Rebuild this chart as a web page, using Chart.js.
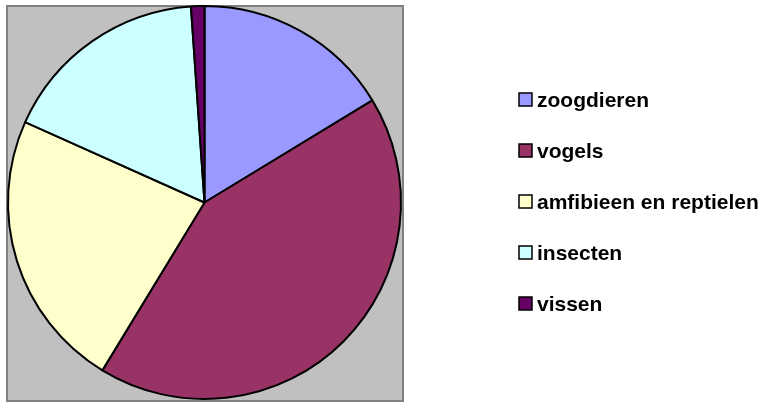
<!DOCTYPE html>
<html>
<head>
<meta charset="utf-8">
<script src="https://cdn.jsdelivr.net/npm/chart.js@4.4.0/dist/chart.umd.min.js"></script>
<style>
    html, body { margin: 0; padding: 0; background: #ffffff; }
    #wrap { width: 767px; height: 403px; }
</style>
</head>
<body>
<div id="wrap"><canvas id="pieChart" width="767" height="403"></canvas></div>
<script>
    'use strict';

    // data (share in %)
    const categories = ['zoogdieren', 'vogels', 'amfibieen en reptielen', 'insecten', 'vissen'];
    const shares = [16.3, 42.4, 23.0, 17.2, 1.1];

    const sliceColors = ['#9999ff', '#993366', '#ffffcc', '#ccffff', '#660066'];

    // grey plot area behind the pie
    const plotBackground = {
        id: 'plotBackground',
        beforeDraw: function (chart) {
            const ctx = chart.ctx;
            ctx.save();
            ctx.fillStyle = '#c0c0c0';
            ctx.fillRect(6, 5, 398, 397);
            ctx.strokeStyle = '#808080';
            ctx.lineWidth = 2;
            ctx.strokeRect(7, 6, 396, 395);
            ctx.restore();
        }
    };

    // legend drawn beside the pie, from the chart's own labels and colours
    const sideLegend = {
        id: 'sideLegend',
        afterDraw: function (chart) {
            const ctx = chart.ctx;
            const ds = chart.data.datasets[0];
            ctx.save();
            ctx.font = 'bold 21px "Liberation Sans", Arial, sans-serif';
            ctx.textBaseline = 'middle';
            chart.data.labels.forEach(function (label, i) {
                const y = 100 + i * 51;
                ctx.fillStyle = ds.backgroundColor[i];
                ctx.fillRect(519, y - 7, 13, 13);
                ctx.strokeStyle = '#000000';
                ctx.lineWidth = 1.5;
                ctx.strokeRect(519, y - 7, 13, 13);
                ctx.fillStyle = '#000000';
                ctx.fillText(label, 537, y + 1);
            });
            ctx.restore();
        }
    };

    new Chart(document.getElementById('pieChart'), {
        type: 'pie',
        data: {
            labels: categories,
            datasets: [{
                data: shares,
                backgroundColor: sliceColors,
                borderColor: '#000000',
                borderWidth: 2
            }]
        },
        options: {
            responsive: false,
            animation: false,
            events: [],
            layout: { padding: { left: 7, top: 5, right: 365, bottom: 3 } },
            plugins: {
                legend: { display: false },
                tooltip: { enabled: false }
            }
        },
        plugins: [plotBackground, sideLegend]
    });
</script>
</body>
</html>
